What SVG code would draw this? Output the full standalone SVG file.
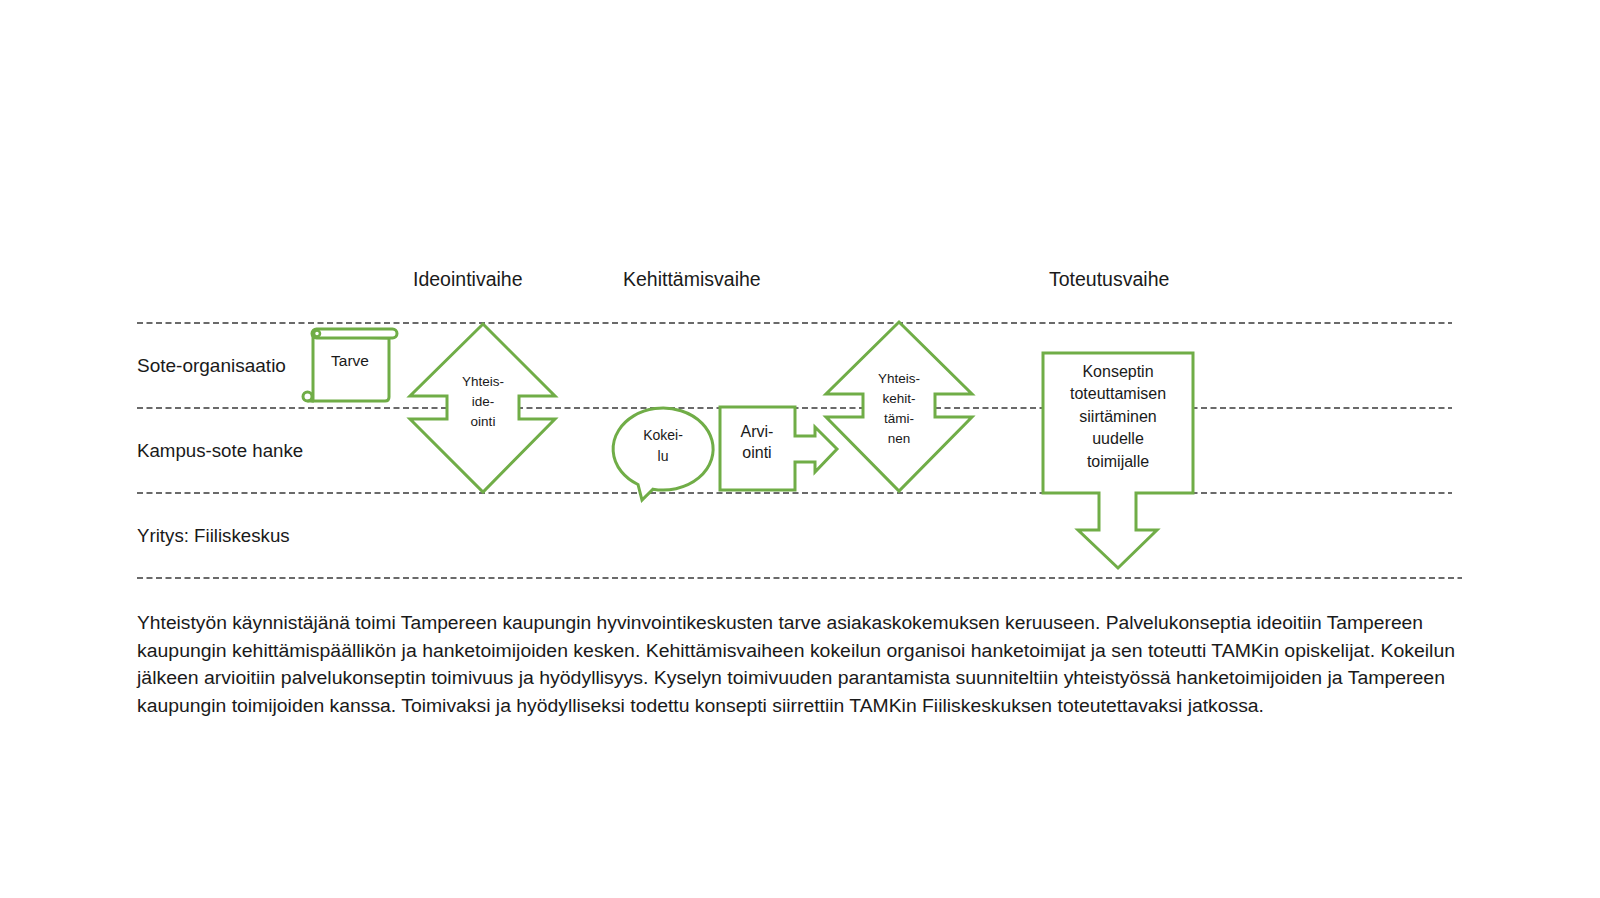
<svg xmlns="http://www.w3.org/2000/svg" width="1600" height="898" viewBox="0 0 1600 898">
<style>
.bg{fill:#ffffff}
.lane{stroke:#3a3a3a;stroke-width:1.6;stroke-dasharray:6 3.5;fill:none}
.shape{fill:#ffffff;stroke:#70AD47;stroke-width:3;stroke-linejoin:miter}
.t{font-family:"Liberation Sans",Arial,sans-serif;fill:#1a1a1a}
.hdr{font-size:19.5px}
.lbl{font-size:19px}
.par{font-size:18px}
.small{font-size:13.5px;text-anchor:middle}
.mid{font-size:16px;text-anchor:middle}
</style>
<rect class="bg" x="0" y="0" width="1600" height="898"/>

<g id="connectors">
  <line class="lane" x1="137" y1="323" x2="1452" y2="323"/>
  <line class="lane" x1="137" y1="408" x2="1452" y2="408"/>
  <line class="lane" x1="137" y1="493" x2="1452" y2="493"/>
  <line class="lane" x1="137" y1="578" x2="1462" y2="578"/>
</g>

<g id="headers">
  <text class="t hdr" x="413" y="286">Ideointivaihe</text>
  <text class="t hdr" x="623" y="286">Kehittämisvaihe</text>
  <text class="t hdr" x="1049" y="286">Toteutusvaihe</text>
</g>

<g id="lanes">
  <text class="t lbl" x="137" y="372">Sote-organisaatio</text>
  <text class="t lbl" x="137" y="457" style="font-size:18.7px">Kampus-sote hanke</text>
  <text class="t lbl" x="137" y="542" style="font-size:18.7px">Yritys: Fiiliskeskus</text>
</g>

<g id="tarve">
  <path class="shape" d="M313,336 V401 H385 Q389,401 389,397 V338 Z"/>
  <rect class="shape" x="312" y="329" width="85" height="9" rx="4.5"/>
  <circle cx="317" cy="333.5" r="3" fill="#ffffff" stroke="#70AD47" stroke-width="2.5"/>
  <circle cx="307.5" cy="396.5" r="4.5" fill="#ffffff" stroke="#70AD47" stroke-width="3"/>
  <line x1="307.5" y1="401" x2="314" y2="401" stroke="#70AD47" stroke-width="3"/>
  <text class="t mid" x="350" y="366" style="font-size:15.5px">Tarve</text>
</g>

<g id="yhteisideointi">
  <path class="shape" d="M483,324 L555,396 H519 V419 H555 L483,492 L410,419 H447 V396 H410 Z"/>
  <text class="t small" x="483" y="386">Yhteis-</text>
  <text class="t small" x="483" y="406">ide-</text>
  <text class="t small" x="483" y="426">ointi</text>
</g>

<g id="kokeilu">
  <path class="shape" d="M638,484.5 A50,41 0 1 1 653,489.2 L642,500 Z"/>
  <text class="t small" x="663" y="440" style="font-size:14px">Kokei-</text>
  <text class="t small" x="663" y="461" style="font-size:14px">lu</text>
</g>

<g id="arviointi">
  <path class="shape" d="M720,407 H795 V436 H815 V427 L837,449 L815,472 V462 H795 V490 H720 Z"/>
  <text class="t mid" x="757" y="437">Arvi-</text>
  <text class="t mid" x="757" y="458">ointi</text>
</g>

<g id="yhteiskehittaminen">
  <path class="shape" d="M899,322 L972,394 H935 V417 H972 L899,491 L826,417 H863 V394 H826 Z"/>
  <text class="t small" x="899" y="383">Yhteis-</text>
  <text class="t small" x="899" y="403">kehit-</text>
  <text class="t small" x="899" y="423">tämi-</text>
  <text class="t small" x="899" y="443">nen</text>
</g>

<g id="konseptin">
  <path class="shape" d="M1043,353 H1193 V493 H1136 V530 H1157 L1118,568 L1078,530 H1099 V493 H1043 Z"/>
  <text class="t mid" x="1118" y="377">Konseptin</text>
  <text class="t mid" x="1118" y="399">toteuttamisen</text>
  <text class="t mid" x="1118" y="421.5">siirtäminen</text>
  <text class="t mid" x="1118" y="444">uudelle</text>
  <text class="t mid" x="1118" y="467">toimijalle</text>
</g>

<g id="description">
  <text class="t par" x="137" y="629" textLength="1286" lengthAdjust="spacingAndGlyphs">Yhteistyön käynnistäjänä toimi Tampereen kaupungin hyvinvointikeskusten tarve asiakaskokemuksen keruuseen. Palvelukonseptia ideoitiin Tampereen</text>
  <text class="t par" x="137" y="657" textLength="1318" lengthAdjust="spacingAndGlyphs">kaupungin kehittämispäällikön ja hanketoimijoiden kesken. Kehittämisvaiheen kokeilun organisoi hanketoimijat ja sen toteutti TAMKin opiskelijat. Kokeilun</text>
  <text class="t par" x="137" y="684" textLength="1308" lengthAdjust="spacingAndGlyphs">jälkeen arvioitiin palvelukonseptin toimivuus ja hyödyllisyys. Kyselyn toimivuuden parantamista suunniteltiin yhteistyössä hanketoimijoiden ja Tampereen</text>
  <text class="t par" x="137" y="712" textLength="1127" lengthAdjust="spacingAndGlyphs">kaupungin toimijoiden kanssa. Toimivaksi ja hyödylliseksi todettu konsepti siirrettiin TAMKin Fiiliskeskuksen toteutettavaksi jatkossa.</text>
</g>
</svg>
